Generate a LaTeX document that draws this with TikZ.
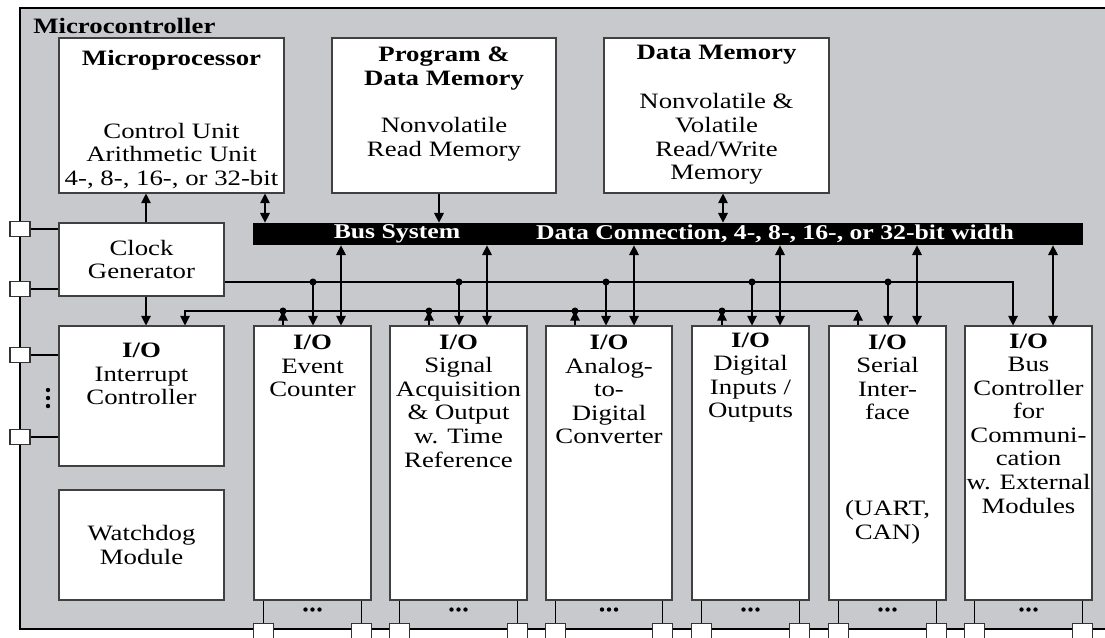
\documentclass[tikz,border=0pt]{standalone}
\usepackage{fontspec}
\setmainfont[FakeStretch=1.22]{Liberation Serif}
\usetikzlibrary{arrows.meta,fit,calc}
\definecolor{chipgray}{RGB}{200,201,205}

\begin{document}
\begin{tikzpicture}[x=0.02cm, y=-0.02cm, >={Triangle[length=5.5pt,width=5.5pt]},
  font=\fontsize{12.5}{13.4}\selectfont,
  box/.style={draw=black!75, line width=0.6pt, fill=white, inner sep=0pt},
  txt/.style={align=center, inner sep=0pt},
  hd/.style={txt, font=\fontsize{12.5}{13.4}\selectfont\bfseries},
  pin/.style={draw=black!80, line width=0.6pt, fill=white, minimum width=0.4cm, minimum height=0.3cm, inner sep=0pt},
  jn/.style={circle, fill, inner sep=0pt, minimum size=4pt},
  wire/.style={line width=0.6pt}]

  \useasboundingbox (0,0) rectangle (1105,637);

  % ── Chip outline ─────────────────────────────────────────────────────────────

  \draw[fill=chipgray, line width=1.2pt] (20,8) rectangle (1125,629);
  \node[hd, anchor=west] (mctitle) at (33,26) {Microcontroller};

  % ── Processor and memories ───────────────────────────────────────────────────

  \node[box, fit={(59,38) (284,193)}] (mp) {};
  \node[hd]  (mphead) at (mp.north |- 0,60)  {Microprocessor};
  \node[txt] (mpbody) at (mp.north |- 0,156) {Control Unit\\Arithmetic Unit\\4-, 8-, 16-, or 32-bit};

  \node[box, fit={(332,38) (556,193)}] (pdm) {};
  \node[hd]  (pdmhead) at (pdm.north |- 0,68.5)  {Program \&\\Data Memory};
  \node[txt] (pdmbody) at (pdm.north |- 0,139.5) {Nonvolatile\\Read Memory};

  \node[box, fit={(604,38) (829,193)}] (dm) {};
  \node[hd]  (dmhead) at (dm.north |- 0,55)  {Data Memory};
  \node[txt] (dmbody) at (dm.north |- 0,139) {Nonvolatile \&\\Volatile\\Read/Write\\Memory};

  \node[box, fit={(59,223) (224,296)}] (clk) {};
  \node[txt] (clktxt) at (clk.center) {Clock\\Generator};

  % Bus
  \node[fill=black, inner sep=0pt, fit={(253,223) (1083,245)}] (bus) {};
  \node[hd, text=white, font=\fontsize{12}{13}\selectfont\bfseries] (buslbl)   at (397,234) {Bus System};
  \node[hd, text=white, font=\fontsize{12}{13}\selectfont\bfseries] (buswidth) at (775,234) {Data Connection, 4-, 8-, 16-, or 32-bit width};

  % ── Peripheral modules ───────────────────────────────────────────────────────

  \node[box, fit={(59,326) (224,466)}] (ic) {};
  \node[txt] (ictxt) at (ic.north |- 0,374) {\textbf{I/O}\\Interrupt\\Controller};
  \node[box, fit={(59,490) (224,600)}] (wd) {};
  \node[txt] (wdtxt) at (wd.center) {Watchdog\\Module};

  \node[box, fit={(254,326) (371,600)}] (ec) {};
  \node[txt] (ectxt) at (ec.north |- 0,366) {\textbf{I/O}\\Event\\Counter};
  \node[box, fit={(390,326) (527,600)}] (sa) {};
  \node[txt] (satxt) at (sa.north |- 0,401) {\textbf{I/O}\\Signal\\Acquisition\\\& Output\\w. Time\\Reference};
  \node[box, fit={(546,326) (672,600)}] (adc) {};
  \node[txt] (adctxt) at (adc.north |- 0,389.5) {\textbf{I/O}\\Analog-\\to-\\Digital\\Converter};
  \node[box, fit={(692,326) (809,600)}] (dio) {};
  \node[txt] (diotxt) at (dio.north |- 0,377.5) {\textbf{I/O}\\Digital\\Inputs /\\Outputs};
  \node[box, fit={(829,326) (946,600)}] (si) {};
  \node[txt] (sitxt) at (si.north |- 0,377.5) {\textbf{I/O}\\Serial\\Inter-\\face};
  \node[txt] (sican) at (si.north |- 0,522) {(UART,\\CAN)};
  \node[box, fit={(965,326) (1092,600)}] (bc) {};
  \node[txt] (bctxt) at (bc.north |- 0,423.5) {\textbf{I/O}\\Bus\\Controller\\for\\Communi-\\cation\\w. External\\Modules};

  % ── Connections ──────────────────────────────────────────────────────────────

  \coordinate (clkbus) at (0,282);
  \coordinate (irqbus) at (0,311);

  \draw[wire, ->]  (146,0 |- clk.north) -- (146,0 |- mp.south);
  \draw[wire, ->]  (146,0 |- clk.south) -- (146,0 |- ic.north);
  \draw[wire, <->] (265,0 |- mp.south)  -- (265,0 |- bus.north);
  \draw[wire, ->]  (439,0 |- pdm.south) -- (439,0 |- bus.north);
  \draw[wire, <->] (723,0 |- dm.south)  -- (723,0 |- bus.north);

  % Clock line
  \draw[wire, ->] (clk.east |- clkbus) -- (1013,0 |- clkbus) -- (1013,0 |- bc.north);
  \foreach \xc/\nm in {313/ec,459/sa,606/adc,752/dio,888/si}{
    \draw[wire, ->] (\xc,0 |- clkbus) -- (\xc,0 |- \nm.north);
    \node[jn] (clk\nm) at (\xc,0 |- clkbus) {};
  }

  % Interrupt line
  \draw[wire, ->] (858,0 |- irqbus) -- (185,0 |- irqbus) -- (185,0 |- ic.north);
  \draw[wire, ->] (858,0 |- si.north) -- (858,0 |- irqbus);
  \foreach \xi/\nm in {283/ec,429/sa,575/adc,722/dio}{
    \draw[wire, ->] (\xi,0 |- \nm.north) -- (\xi,0 |- irqbus);
    \node[jn] (irq\nm) at (\xi,0 |- irqbus) {};
  }

  % Data bus taps
  \foreach \xb/\nm in {341/ec,487/sa,634/adc,780/dio,917/si,1053/bc}
    \draw[wire, <->] (\xb,0 |- bus.south) -- (\xb,0 |- \nm.north);

  % ── Pins ─────────────────────────────────────────────────────────────────────

  \node[pin] (pclka) at (20,229) {};
  \node[pin] (pclkb) at (20,289) {};
  \node[pin] (pica)  at (20,355) {};
  \node[pin] (picb)  at (20,437) {};
  \draw[wire] (pclka.east) -- (pclka -| clk.west);
  \draw[wire] (pclkb.east) -- (pclkb -| clk.west);
  \draw[wire] (pica.east)  -- (pica -| ic.west);
  \draw[wire] (picb.east)  -- (picb -| ic.west);
  \foreach \yd in {390,398,406}
    \node[jn, minimum size=2.5pt] (icdot\yd) at (48,\yd) {};

  \foreach \nm in {ec,sa,adc,dio,si,bc}{
    \node[pin] (\nm-pl) at ($(\nm.south west)+(10,30)$) {};
    \node[pin] (\nm-pr) at ($(\nm.south east)+(-10,30)$) {};
    \draw[wire] (\nm-pl.north) -- (\nm-pl.north |- \nm.south);
    \draw[wire] (\nm-pr.north) -- (\nm-pr.north |- \nm.south);
    \foreach \dx in {-7,0,7}
      \node[jn, minimum size=2.5pt] (\nm-dot\dx) at ($(\nm.south)+(\dx,9)$) {};
  }

\end{tikzpicture}
\end{document}
